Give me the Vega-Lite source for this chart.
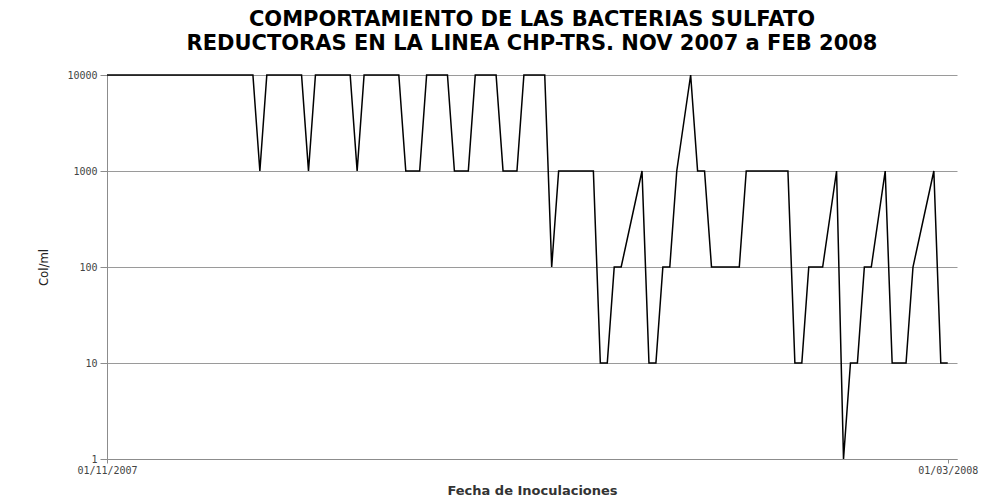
{
  "$schema": "https://vega.github.io/schema/vega-lite/v6.json",
  "width": 850,
  "height": 384,
  "autosize": {"type": "none"},
  "padding": {"left": 107, "top": 75, "right": 37, "bottom": 45},
  "background": "white",
  "title": {
    "text": ["COMPORTAMIENTO DE LAS BACTERIAS  SULFATO", "REDUCTORAS EN LA LINEA CHP-TRS. NOV 2007 a FEB 2008"],
    "font": "DejaVu Sans",
    "fontSize": 21,
    "fontWeight": "bold",
    "color": "black",
    "anchor": "middle",
    "offset": 16,
    "lineHeight": 24
  },
  "data": {
    "values": [
      {"fecha": "2007-11-01", "col": 10000},
      {"fecha": "2007-11-22", "col": 10000},
      {"fecha": "2007-11-23", "col": 1000},
      {"fecha": "2007-11-24", "col": 10000},
      {"fecha": "2007-11-29", "col": 10000},
      {"fecha": "2007-11-30", "col": 1000},
      {"fecha": "2007-12-01", "col": 10000},
      {"fecha": "2007-12-06", "col": 10000},
      {"fecha": "2007-12-07", "col": 1000},
      {"fecha": "2007-12-08", "col": 10000},
      {"fecha": "2007-12-13", "col": 10000},
      {"fecha": "2007-12-14", "col": 1000},
      {"fecha": "2007-12-16", "col": 1000},
      {"fecha": "2007-12-17", "col": 10000},
      {"fecha": "2007-12-20", "col": 10000},
      {"fecha": "2007-12-21", "col": 1000},
      {"fecha": "2007-12-23", "col": 1000},
      {"fecha": "2007-12-24", "col": 10000},
      {"fecha": "2007-12-27", "col": 10000},
      {"fecha": "2007-12-28", "col": 1000},
      {"fecha": "2007-12-30", "col": 1000},
      {"fecha": "2007-12-31", "col": 10000},
      {"fecha": "2008-01-03", "col": 10000},
      {"fecha": "2008-01-04", "col": 100},
      {"fecha": "2008-01-05", "col": 1000},
      {"fecha": "2008-01-10", "col": 1000},
      {"fecha": "2008-01-11", "col": 10},
      {"fecha": "2008-01-12", "col": 10},
      {"fecha": "2008-01-13", "col": 100},
      {"fecha": "2008-01-14", "col": 100},
      {"fecha": "2008-01-17", "col": 1000},
      {"fecha": "2008-01-18", "col": 10},
      {"fecha": "2008-01-19", "col": 10},
      {"fecha": "2008-01-20", "col": 100},
      {"fecha": "2008-01-21", "col": 100},
      {"fecha": "2008-01-22", "col": 1000},
      {"fecha": "2008-01-24", "col": 10000},
      {"fecha": "2008-01-25", "col": 1000},
      {"fecha": "2008-01-26", "col": 1000},
      {"fecha": "2008-01-27", "col": 100},
      {"fecha": "2008-01-31", "col": 100},
      {"fecha": "2008-02-01", "col": 1000},
      {"fecha": "2008-02-07", "col": 1000},
      {"fecha": "2008-02-08", "col": 10},
      {"fecha": "2008-02-09", "col": 10},
      {"fecha": "2008-02-10", "col": 100},
      {"fecha": "2008-02-12", "col": 100},
      {"fecha": "2008-02-14", "col": 1000},
      {"fecha": "2008-02-15", "col": 1},
      {"fecha": "2008-02-16", "col": 10},
      {"fecha": "2008-02-17", "col": 10},
      {"fecha": "2008-02-18", "col": 100},
      {"fecha": "2008-02-19", "col": 100},
      {"fecha": "2008-02-21", "col": 1000},
      {"fecha": "2008-02-22", "col": 10},
      {"fecha": "2008-02-24", "col": 10},
      {"fecha": "2008-02-25", "col": 100},
      {"fecha": "2008-02-28", "col": 1000},
      {"fecha": "2008-02-29", "col": 10},
      {"fecha": "2008-03-01", "col": 10}
    ]
  },
  "config": {
    "view": {"stroke": null},
    "axis": {
      "domainColor": "#8c8c8c",
      "tickColor": "#8c8c8c",
      "gridColor": "#9a9a9a",
      "labelFont": "DejaVu Sans Mono",
      "labelFontSize": 10,
      "labelColor": "#444444"
    }
  },
  "mark": {"type": "line", "color": "black", "strokeWidth": 1.5, "interpolate": "linear"},
  "encoding": {
    "x": {
      "field": "fecha",
      "type": "temporal",
      "scale": {"domain": ["2007-11-01T00:00:00", "2008-03-02T08:00:00"], "nice": false},
      "axis": {
        "values": ["2007-11-01T00:00:00", "2008-03-01T00:00:00"],
        "format": "%d/%m/%Y",
        "grid": false,
        "title": "Fecha de Inoculaciones",
        "titleFont": "DejaVu Sans",
        "titleFontSize": 13,
        "titleFontWeight": "bold",
        "titleColor": "#333333",
        "titlePadding": 9,
        "tickSize": 4,
        "labelPadding": 2,
        "labelFlush": false
      }
    },
    "y": {
      "field": "col",
      "type": "quantitative",
      "scale": {"type": "log", "domain": [1, 10000], "nice": false},
      "axis": {
        "values": [1, 10, 100, 1000, 10000],
        "format": "d",
        "grid": true,
        "title": "Col/ml",
        "titleFont": "DejaVu Sans Condensed",
        "titleFontSize": 13,
        "titleFontWeight": "normal",
        "titleColor": "#222222",
        "titlePadding": 16,
        "tickSize": 7,
        "labelPadding": 3
      }
    }
  }
}
